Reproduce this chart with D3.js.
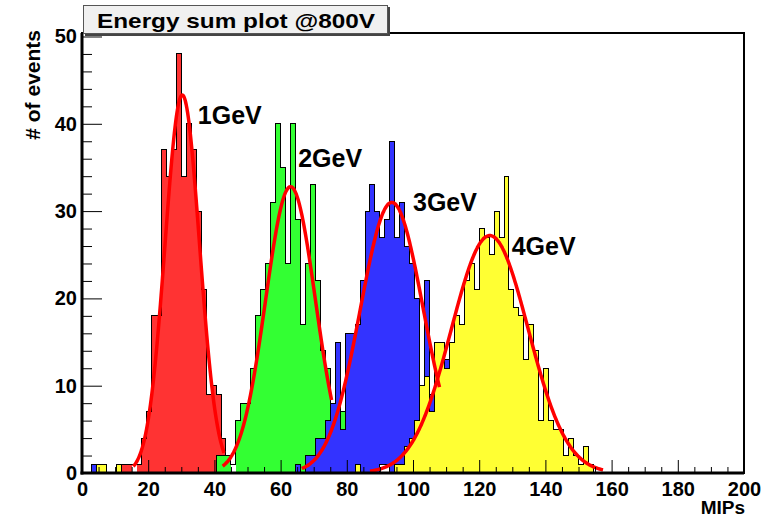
<!DOCTYPE html>
<html>
<head>
<meta charset="utf-8">
<script src="https://d3js.org/d3.v7.min.js"></script>
<style>
  body { margin: 0; background: #fff; }
  svg text { font-family: "Liberation Sans", Arial, Helvetica, sans-serif; font-weight: bold; fill: #000; }
</style>
</head>
<body>
<svg id="chart" width="762" height="517"></svg>
<script>
// Histogram bins are 1.5 MIPs wide, bin i covers [1.5*i, 1.5*(i+1))
const binWidth = 1.5

// 1 GeV (red), first bin index then counts
const redFrom = 8
const redCounts = [1, 1, 1, 1, 4, 7, 18, 18, 37, 34, 37, 48, 34, 40, 37, 30, 21, 9, 10, 9, 4]

// 2 GeV (green)
const greenFrom = 27
const greenCounts = [2, 2, 2, 1, 6, 8, 8, 12, 18, 21, 24, 31, 40, 35, 24, 40, 29, 17, 24, 33, 22, 14, 12, 8, 4, 7, 3, 1]

// 3 GeV (blue)
const blueFrom = 2
const blueCounts = [1,
  0, 0, 0, 0, 0, 0, 0, 0, 0, 0, 0, 0, 0, 0, 0, 0, 0, 0, 0, 0,
  0, 0, 0, 0, 0, 0, 0, 0, 0, 0, 0, 0, 0, 0, 0, 0, 0, 0, 0, 0,
  1, 0, 2, 2, 4, 4, 6, 8, 15, 5, 16, 16, 17, 22, 30, 33, 30, 27, 29, 38,
  27, 31, 26, 24, 20, 8, 22, 9, 6, 5, 13, 2, 1]

// 4 GeV (yellow)
const yellowFrom = 3
const yellowCounts = [1, 1, 0, 0, 1,
  0, 0, 0, 0, 0, 0, 0, 0, 0, 0, 0, 0, 0, 0, 0, 0, 0, 0, 0, 0,
  0, 0, 0, 0, 0, 0, 0, 0, 0, 0, 0, 0, 0, 0, 0, 0, 0, 0, 0, 0,
  0, 0, 0, 0, 0, 0, 0,
  1, 0, 0, 0, 0, 1, 1, 0, 1, 1, 3, 4, 6, 10, 11, 7, 15, 15, 12, 15,
  18, 17, 22, 24, 21, 28, 27, 25, 30, 27, 34, 21, 19, 18, 13, 17, 14, 6, 12, 6,
  5, 5, 2, 4, 2, 1, 3, 1]

// bins whose fill is missing in the original picture (only the outline is drawn)
const redHollow = [10]
const greenHollow = [30]
const blueHollow = []
const yellowHollow = [60, 61]

// gaussian fits: amplitude, mean, sigma, fit range
const fitAmp = [43.3, 32.8, 31.0, 27.2]
const fitMean = [30.3, 63.0, 93.6, 123.2]
const fitSigma = [5.2, 7.5, 9.5, 11.6]
const fitLow = [15.5, 42.5, 66.4, 87.0]
const fitHigh = [42.9, 75.4, 108.0, 157.4]

// energy labels and where they sit (MIPs, events)
const energyLabels = ['1GeV', '2GeV', '3GeV', '4GeV']
const labelMips = [35, 65.3, 100, 129.8]
const labelEvents = [40, 35, 30, 25]

const xTicks = [0, 20, 40, 60, 80, 100, 120, 140, 160, 180, 200]
const yTicks = [0, 10, 20, 30, 40, 50]

const svg = d3.select('#chart')

const x = d3.scaleLinear().domain([0, 200]).range([82, 744])
const y = d3.scaleLinear().domain([0, 50.4]).range([473, 33])

const series = [
  { from: redFrom, counts: redCounts, hollow: redHollow, color: '#ff3333' },
  { from: greenFrom, counts: greenCounts, hollow: greenHollow, color: '#33ff33' },
  { from: blueFrom, counts: blueCounts, hollow: blueHollow, color: '#3333ff' },
  { from: yellowFrom, counts: yellowCounts, hollow: yellowHollow, color: '#ffff33' }
]

const line = d3.line().x(d => x(d[0])).y(d => y(d[1]))

// draw histograms in order, later ones cover earlier ones
series.forEach(s => {
  let bins = s.counts.map((n, k) => ({ i: s.from + k, x0: (s.from + k) * binWidth, x1: (s.from + k + 1) * binWidth, n: n }))
  let pts = [[bins[0].x0, 0]]
  bins.forEach(b => { pts.push([b.x0, b.n]); pts.push([b.x1, b.n]) })
  pts.push([bins[bins.length - 1].x1, 0])

  svg.append('path')
    .attr('d', line(pts) + 'Z')
    .attr('fill', s.color)
    .attr('stroke', 'none')
    .attr('shape-rendering', 'crispEdges')

  svg.selectAll(null)
    .data(bins.filter(b => s.hollow.includes(b.i)))
    .enter()
    .append('rect')
    .attr('x', b => x(b.x0))
    .attr('y', b => y(b.n))
    .attr('width', b => x(b.x1) - x(b.x0))
    .attr('height', b => y(0) - y(b.n))
    .attr('fill', '#fff')
    .attr('shape-rendering', 'crispEdges')

  svg.append('path')
    .attr('d', line(pts))
    .attr('fill', 'none')
    .attr('stroke', '#000')
    .attr('stroke-width', 1)
    .attr('shape-rendering', 'crispEdges')
})

// fit curves on top
fitAmp.forEach((a, k) => {
  let pts = d3.range(fitLow[k], fitHigh[k], 0.2).concat([fitHigh[k]])
    .map(m => [m, a * Math.exp(-0.5 * Math.pow((m - fitMean[k]) / fitSigma[k], 2))])
  svg.append('path')
    .attr('d', d3.line().x(d => x(d[0])).y(d => y(d[1])).curve(d3.curveBasis)(pts))
    .attr('fill', 'none')
    .attr('stroke', '#ff0000')
    .attr('stroke-width', 3.5)
})

// energy labels
svg.selectAll('.elabel')
  .data(energyLabels)
  .enter()
  .append('text')
  .attr('class', 'elabel')
  .attr('x', (d, k) => x(labelMips[k]))
  .attr('y', (d, k) => y(labelEvents[k]))
  .style('font-size', '25px')
  .text(d => d)

// x axis: major ticks with labels, minor ticks every 5
let xAxis = svg.append('g')
  .attr('transform', `translate(0,${y(0)})`)
  .call(d3.axisBottom(x).tickValues(xTicks).tickSizeInner(-13).tickSizeOuter(0).tickPadding(9))
xAxis.select('.domain').remove()
xAxis.selectAll('text').style('font-size', '20px').attr('font-family', null)
xAxis.selectAll('line').attr('stroke', '#000')

let xMinor = svg.append('g')
  .attr('transform', `translate(0,${y(0)})`)
  .call(d3.axisBottom(x).tickValues(d3.range(0, 201, 5).filter(v => v % 20)).tickSize(-6).tickFormat(''))
xMinor.select('.domain').remove()

// y axis: major every 10, minor every 2
let yAxis = svg.append('g')
  .attr('transform', `translate(${x(0)},0)`)
  .call(d3.axisLeft(y).tickValues(yTicks).tickSizeInner(-20).tickSizeOuter(0).tickPadding(5))
yAxis.select('.domain').remove()
yAxis.selectAll('text').style('font-size', '20px').attr('font-family', null)

let yMinor = svg.append('g')
  .attr('transform', `translate(${x(0)},0)`)
  .call(d3.axisLeft(y).tickValues(d3.range(0, 51, 2).filter(v => v % 10)).tickSize(-10).tickFormat(''))
yMinor.select('.domain').remove()

// frame
svg.append('rect')
  .attr('x', x(0)).attr('y', y.range()[1])
  .attr('width', x(200) - x(0)).attr('height', y(0) - y.range()[1])
  .attr('fill', 'none').attr('stroke', '#000').attr('stroke-width', 2)
svg.append('line')
  .attr('x1', x(0)).attr('x2', x(0)).attr('y1', y.range()[1]).attr('y2', y(0) + 1.5)
  .attr('stroke', '#000').attr('stroke-width', 3)
svg.append('line')
  .attr('x1', x(0) - 1.5).attr('x2', x(200)).attr('y1', y(0)).attr('y2', y(0))
  .attr('stroke', '#000').attr('stroke-width', 3)

// axis titles
svg.append('text')
  .attr('x', 745).attr('y', 514)
  .attr('text-anchor', 'end')
  .style('font-size', '19px')
  .text('MIPs')
svg.append('text')
  .attr('transform', 'translate(40,30) rotate(-90)')
  .attr('text-anchor', 'end')
  .style('font-size', '21px')
  .text('# of events')

// title box with shadow
svg.append('rect')
  .attr('x', 85).attr('y', 7).attr('width', 305).attr('height', 29)
  .attr('fill', '#444')
svg.append('rect')
  .attr('x', 83.5).attr('y', 5.5).attr('width', 304).attr('height', 28)
  .attr('fill', '#f0f0f0').attr('stroke', '#555').attr('stroke-width', 1)
svg.append('text')
  .attr('x', 97).attr('y', 27.5)
  .attr('textLength', 278)
  .attr('lengthAdjust', 'spacingAndGlyphs')
  .style('font-size', '21px')
  .text('Energy sum plot @800V')
</script>
</body>
</html>
